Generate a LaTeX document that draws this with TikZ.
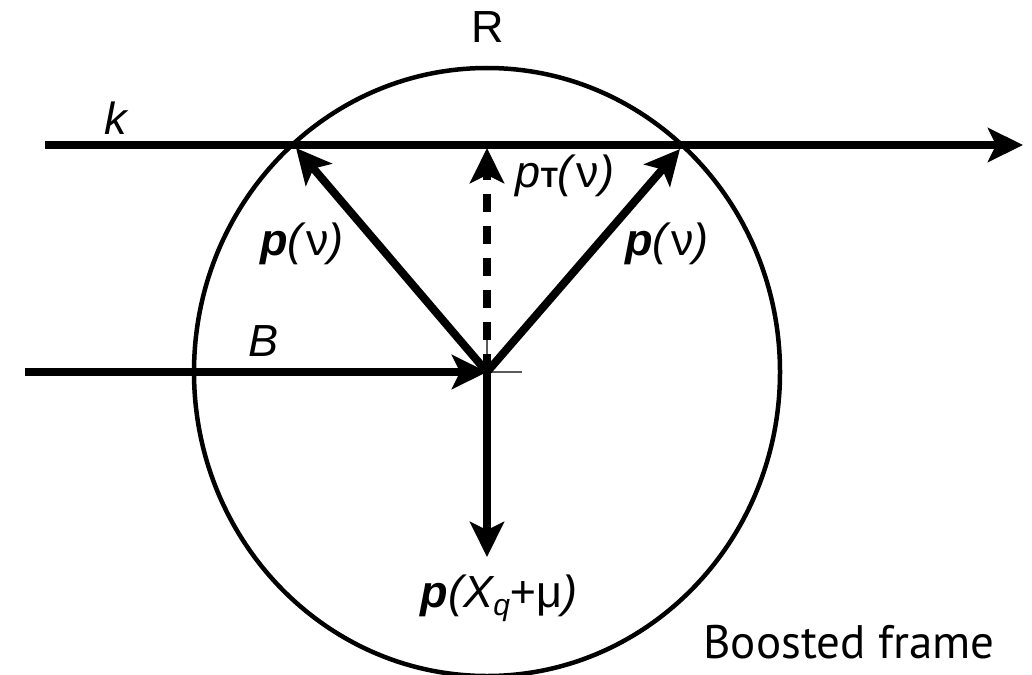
\documentclass[tikz,border=0pt]{standalone}
\usepackage{fontspec}
\setmainfont{Liberation Sans}
\newfontfamily\framefont{PT Sans}
\usetikzlibrary{arrows.meta}
\tikzset{
  lab/.style={inner sep=0pt, anchor=base, font=\fontsize{45}{54}\selectfont},
  vec/.style={line width=8pt, -{Stealth[length=35pt,width=34pt,inset=8pt]}},
  thin/.style={line width=1.2pt, gray!70!black},
  rim/.style={line width=4.5pt},
}
\newcommand{\nuup}{\textup{ν}}
\begin{document}
\begin{tikzpicture}[x=1pt,y=-1pt]
\useasboundingbox (0,0) rectangle (1032,674);
\coordinate (V) at (487,372);
\coordinate (KL) at (45,145);
\coordinate (KR) at (1023,145);
\coordinate (PL) at (296,148);
\coordinate (PR) at (680,149);
\coordinate (PT) at (487,148);
\coordinate (BL) at (25,372);
\coordinate (PD) at (487,557);
\coordinate (TV) at (487,327);
\coordinate (TH) at (522,372);
% circle
\draw[rim] (V) ellipse [x radius=293pt, y radius=304pt];
% thin construction marks
\draw[thin] (TV) -- (V) -- (TH);
% vectors
\draw[vec] (KL) -- (KR);
\draw[vec] (BL) -- (V);
\draw[vec] (V) -- (PL);
\draw[vec] (V) -- (PR);
\draw[vec] (V) -- (PD);
\draw[line width=7.5pt, dash pattern=on 18pt off 14pt, -{Stealth[length=35pt,width=34pt,inset=8pt]}] (V) -- (PT);
% labels
\node[lab] (Rlab) at (488,43) {R};
\node[lab] (klab) at (117,135) {\textit{k}};
\node[lab] (Blab) at (264,356) {\textit{B}};
\node[lab] (pl) at (302,255) {\textbf{\textit{p}}\textit{(}\nuup\textit{)}};
\node[lab] (pr) at (667,255) {\textbf{\textit{p}}\textit{(}\nuup\textit{)}};
\node[lab] (pt) at (565,187) {\textit{p}{\fontsize{28}{28}\selectfont\textbf{T}}\textit{(}\nuup\textit{)}};
\node[lab] (pd) at (499,607) {\textbf{\textit{p}}\textit{(X\raisebox{-0.18em}{\fontsize{30}{30}\selectfont q}+}μ\textit{)}};
\node[inner sep=0pt, anchor=base, font=\framefont\fontsize{47}{54}\selectfont] (fr) at (849,658) {Boosted frame};
\end{tikzpicture}
\end{document}
